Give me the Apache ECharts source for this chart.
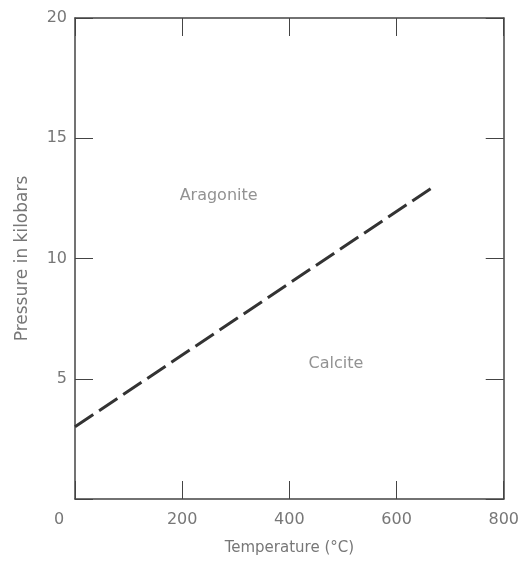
<!DOCTYPE html>
<html>

<head>
  <meta charset="utf-8">
  <title>Calcite - Aragonite</title>
  <script src="https://cdn.jsdelivr.net/npm/echarts@6/dist/echarts.min.js"></script>
  <style>
    html, body { margin: 0; padding: 0; background: #fff; }
  </style>
</head>

<body>
  <div id="main" style="width: 522px;height:562px;"></div>
  <script type="text/javascript">
    // boundary line, temperature (°C) vs pressure (kbar)
    var boundaryTemp = [0, 670];
    var boundaryPressure = [3, 13];

    // field labels
    var fieldNames = ['Aragonite', 'Calcite'];
    var fieldTemp = [268, 487];
    var fieldPressure = [12.6, 5.6];

    var xTicks = [0, 200, 400, 600, 800];
    var yTicks = [0, 5, 10, 15, 20];

    var boundaryData = [];
    for (var i = 0; i < boundaryTemp.length; i++) {
      boundaryData.push([boundaryTemp[i], boundaryPressure[i]]);
    }
    var fieldData = [];
    for (var j = 0; j < fieldNames.length; j++) {
      fieldData.push({ name: fieldNames[j], value: [fieldTemp[j], fieldPressure[j]] });
    }

    var axisColor = '#444';
    var textColor = '#777';
    var font = 'DejaVu Sans';

    var myChart = echarts.init(document.getElementById('main'));

    var option = {
      animation: false,
      grid: { left: 75, right: 15, top: 18, bottom: 63 },
      xAxis: [{
        type: 'value',
        position: 'bottom',
        min: xTicks[0],
        max: xTicks[xTicks.length - 1],
        interval: 200,
        name: 'Temperature (°C)',
        nameLocation: 'middle',
        nameGap: 42,
        nameTextStyle: { color: textColor, fontFamily: font, fontSize: 15 },
        axisLine: { onZero: false, lineStyle: { color: axisColor, width: 1.5 } },
        axisTick: { inside: true, length: 18, lineStyle: { color: axisColor } },
        splitLine: { show: false },
        axisLabel: {
          margin: 13,
          color: textColor,
          fontFamily: font,
          fontSize: 16,
          formatter: function (v) { return v === 0 ? '{z|0}' : String(v); },
          rich: { z: { padding: [0, 32, 0, 0], color: textColor, fontFamily: font, fontSize: 16 } }
        }
      }, {
        type: 'value',
        position: 'top',
        min: xTicks[0],
        max: xTicks[xTicks.length - 1],
        interval: 200,
        axisLine: { onZero: false, lineStyle: { color: axisColor, width: 1.5 } },
        axisTick: { inside: true, length: 18, lineStyle: { color: axisColor } },
        axisLabel: { show: false },
        splitLine: { show: false }
      }],
      yAxis: [{
        type: 'value',
        position: 'left',
        min: yTicks[0],
        max: yTicks[yTicks.length - 1],
        interval: 5,
        name: 'Pressure in kilobars',
        nameLocation: 'middle',
        nameGap: 44,
        nameTextStyle: { color: textColor, fontFamily: font, fontSize: 17 },
        axisLine: { onZero: false, lineStyle: { color: axisColor, width: 1.5 } },
        axisTick: { inside: true, length: 18, lineStyle: { color: axisColor } },
        splitLine: { show: false },
        axisLabel: {
          margin: 8,
          color: textColor,
          fontFamily: font,
          fontSize: 16,
          formatter: function (v) { return v === 0 ? '' : String(v); }
        }
      }, {
        type: 'value',
        position: 'right',
        min: yTicks[0],
        max: yTicks[yTicks.length - 1],
        interval: 5,
        axisLine: { onZero: false, lineStyle: { color: axisColor, width: 1.5 } },
        axisTick: { inside: true, length: 18, lineStyle: { color: axisColor } },
        axisLabel: { show: false },
        splitLine: { show: false }
      }],
      series: [{
        name: 'Boundary',
        type: 'line',
        data: boundaryData,
        symbol: 'none',
        lineStyle: { color: '#333', width: 3, type: [22, 7] }
      }, {
        name: 'Fields',
        type: 'scatter',
        data: fieldData,
        symbolSize: 0,
        label: {
          show: true,
          position: 'inside',
          formatter: '{b}',
          color: textColor,
          fontFamily: font,
          fontSize: 16
        }
      }]
    };

    myChart.setOption(option);
  </script>
</body>

</html>
